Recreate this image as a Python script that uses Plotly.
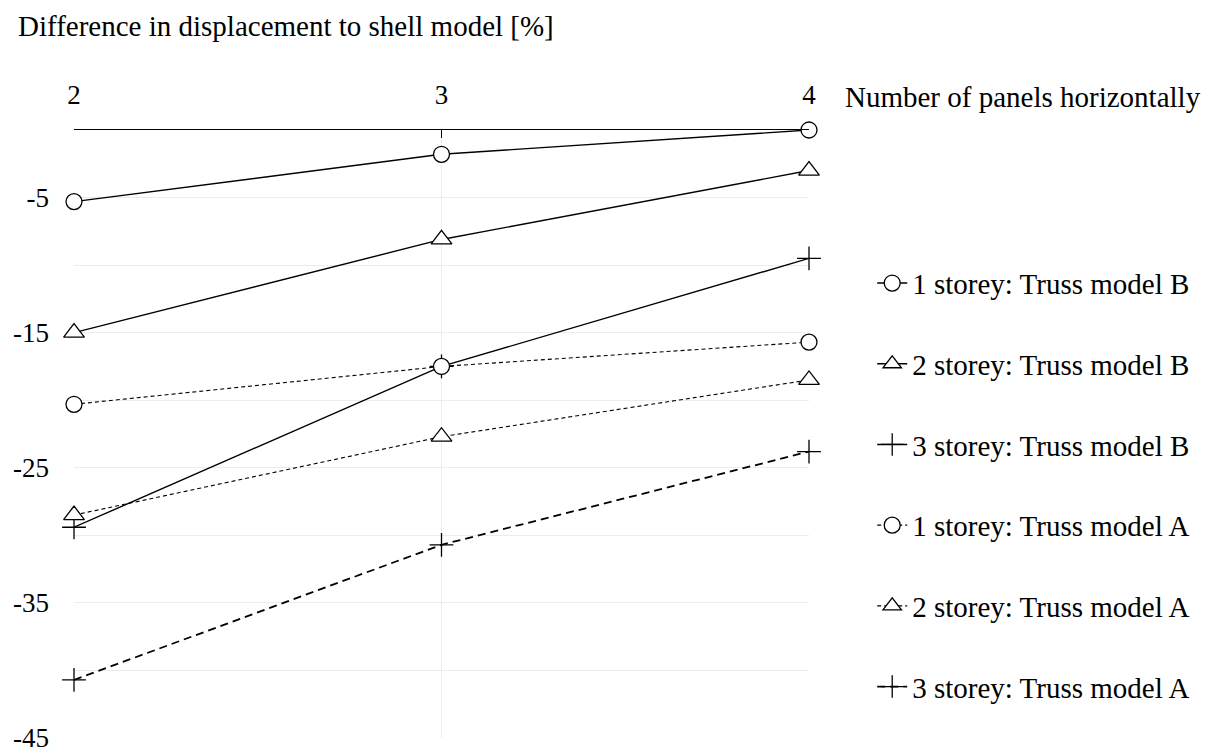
import plotly.graph_objects as go

# Number of panels horizontally
panels = [2, 3, 4]

# Difference in displacement to shell model [%]
storey1_model_B = [-5.3, -1.8, 0.0]
storey2_model_B = [-15.0, -8.1, -3.0]
storey3_model_B = [-29.4, -17.5, -9.5]
storey1_model_A = [-20.3, -17.5, -15.7]
storey2_model_A = [-28.5, -22.7, -18.5]
storey3_model_A = [-40.7, -30.7, -23.8]

series_names = [
    "1 storey: Truss model B",
    "2 storey: Truss model B",
    "3 storey: Truss model B",
    "1 storey: Truss model A",
    "2 storey: Truss model A",
    "3 storey: Truss model A",
]

y_tick_values = [0, -5, -10, -15, -20, -25, -30, -35, -40, -45]
y_tick_text = ["", "-5", "", "-15", "", "-25", "", "-35", "", "-45"]
x_tick_values = [2, 3, 4]
x_tick_text = ["2", "3", "4"]

FONT = "Times New Roman, Liberation Serif, DejaVu Serif, serif"
FS = 29
FS_TICK = 27
GRID = "#ececec"

styles = [
    dict(symbol="circle", dash="solid", width=1.4, size=16),
    dict(symbol="triangle-up", dash="solid", width=1.4, size=18),
    dict(symbol="cross-thin", dash="solid", width=1.4, size=17),
    dict(symbol="circle", dash="4px,3px", width=1.1, size=16),
    dict(symbol="triangle-up", dash="4px,3px", width=1.1, size=18),
    dict(symbol="cross-thin", dash="8px,5px", width=1.8, size=17),
]
values = [storey1_model_B, storey2_model_B, storey3_model_B,
          storey1_model_A, storey2_model_A, storey3_model_A]

fig = go.Figure()
for name, ys, st in zip(series_names, values, styles):
    thin = st["symbol"] == "cross-thin"
    fig.add_trace(go.Scatter(
        x=panels, y=ys, name=name, mode="lines+markers",
        legendgroup=name,
        cliponaxis=False,
        line=dict(color="black", width=st["width"], dash=st["dash"]),
        marker=dict(
            symbol=st["symbol"],
            size=st["size"],
            color="black" if thin else "white",
            line=dict(color="black", width=1.3),
        ),
    ))

fig.update_layout(
    width=1211, height=754,
    margin=dict(l=74, r=402, t=130, b=16, autoexpand=False),
    paper_bgcolor="white", plot_bgcolor="white",
    font=dict(family=FONT, size=FS, color="black"),
    title=dict(
        text="Difference in displacement to shell model [%]",
        xref="container", yref="container",
        x=18 / 1211, xanchor="left",
        y=1 - 26 / 754, yanchor="middle",
        font=dict(family=FONT, size=FS, color="black"),
    ),
    legend=dict(
        x=1.086, xanchor="left",
        y=0.79, yanchor="top",
        tracegroupgap=40,
        font=dict(family=FONT, size=FS, color="black"),
        bgcolor="rgba(0,0,0,0)",
    ),
    showlegend=True,
)

fig.update_xaxes(
    range=[2, 4], side="top", automargin=False,
    tickmode="array", tickvals=x_tick_values, ticktext=x_tick_text,
    tickfont=dict(family=FONT, size=FS_TICK, color="black"),
    ticks="inside", ticklen=8, tickwidth=1.3, tickcolor="black",
    showline=True, linecolor="black", linewidth=1.3,
    showgrid=True, gridcolor=GRID, gridwidth=1,
    zeroline=False, ticklabelstandoff=14,
)
fig.update_yaxes(
    range=[-45, 0], automargin=False,
    tickmode="array", tickvals=y_tick_values, ticktext=y_tick_text,
    tickfont=dict(family=FONT, size=FS_TICK, color="black"),
    ticklabeloverflow="allow",
    ticks="", showline=False,
    showgrid=True, gridcolor=GRID, gridwidth=1,
    zeroline=False, ticklabelstandoff=24,
)

fig.add_annotation(
    text="Number of panels horizontally",
    xref="paper", yref="paper",
    x=(843 - 74) / 738 * 738 / 735, xanchor="left",
    y=(738 - 97) / 608, yanchor="middle",
    showarrow=False,
    font=dict(family=FONT, size=FS, color="black"),
)

fig.write_html("out.html")
